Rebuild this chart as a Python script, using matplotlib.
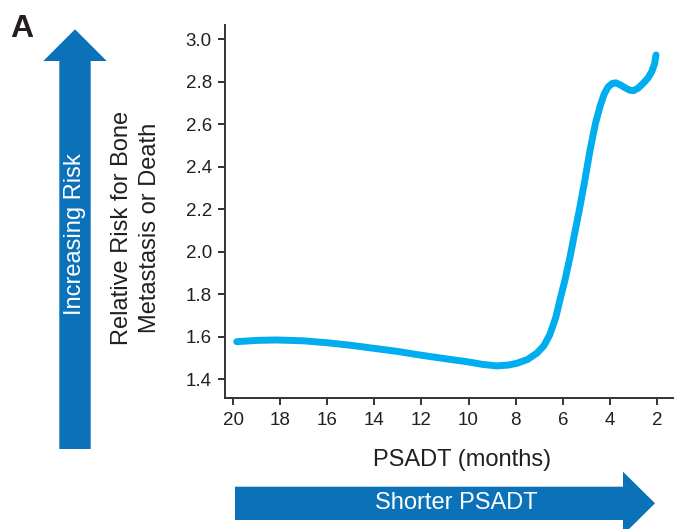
import matplotlib.pyplot as plt
from matplotlib.patches import Polygon

plt.rcParams['font.family'] = ['Liberation Sans', 'DejaVu Sans']

# PSADT (months) vs relative risk
psadt = [19.84, 19.0, 18.15, 17.0, 16.02, 15.0, 14.04, 13.0, 12.06, 11.0,
         10.08, 9.4, 8.81, 8.3, 7.96, 7.5, 7.11, 6.8, 6.55, 6.3,
         6.12, 5.9, 5.69, 5.48, 5.27, 5.05, 4.84, 4.62, 4.42, 4.25,
         4.08, 3.9, 3.75, 3.55, 3.36, 3.15, 3.0, 2.8, 2.58, 2.38,
         2.22, 2.1, 2.04]
risk = [1.577, 1.583, 1.585, 1.581, 1.572, 1.560, 1.546, 1.531, 1.514, 1.497,
        1.483, 1.470, 1.463, 1.467, 1.475, 1.493, 1.522, 1.558, 1.610, 1.690,
        1.773, 1.870, 1.977, 2.095, 2.212, 2.345, 2.479, 2.600, 2.683, 2.740,
        2.775, 2.792, 2.795, 2.785, 2.772, 2.760, 2.758, 2.770, 2.793, 2.818,
        2.848, 2.885, 2.926]

x_ticks = [20, 18, 16, 14, 12, 10, 8, 6, 4, 2]
y_ticks = [1.4, 1.6, 1.8, 2.0, 2.2, 2.4, 2.6, 2.8, 3.0]

W, H = 674, 529
fig = plt.figure(figsize=(W / 100, H / 100), dpi=100)

# overlay for the arrows and free text, in pixel units
ov = fig.add_axes([0, 0, 1, 1])
ov.set_xlim(0, W)
ov.set_ylim(H, 0)
ov.axis('off')

ax = fig.add_axes([225 / W, 1 - 398 / H, (673 - 225) / W, (398 - 25) / H])
ax.plot(psadt, risk, color='#00aeef', lw=5, solid_capstyle='round',
        solid_joinstyle='round')
ax.set_xlim(20.34, 1.32)
ax.set_ylim(1.312, 3.067)
ax.set_xticks(x_ticks)
ax.set_yticks(y_ticks)
ax.set_yticklabels([f'{v:.1f}' for v in y_ticks])
for s in ['top', 'right']:
    ax.spines[s].set_visible(False)
for s in ['left', 'bottom']:
    ax.spines[s].set_color('#333333')
    ax.spines[s].set_linewidth(1.4)
ax.tick_params(direction='out', length=5, width=1.4, color='#333333',
               labelsize=13.5, labelcolor='#231f20')
ax.tick_params(axis='y', pad=4.5)
ax.tick_params(axis='x', pad=5)

txt = '#231f20'
blue = '#0b72b9'

# vertical arrow
ov.add_patch(Polygon([(59.3, 449), (90.7, 449), (90.7, 61), (106.7, 61),
                      (75, 29.3), (43.3, 61), (59.3, 61)],
                     closed=True, fc=blue, ec='none'))
ov.text(75, 234, 'Increasing Risk', rotation=90, color='white', fontsize=17,
        ha='center', va='center')

# horizontal arrow
ov.add_patch(Polygon([(235, 486.7), (623, 486.7), (623, 471.7), (655, 503.3),
                      (623, 535), (623, 520), (235, 520)],
                     closed=True, fc=blue, ec='none'))
ov.text(456, 503, 'Shorter PSADT', color='white', fontsize=17,
        ha='center', va='center')

ov.text(136, 228, 'Relative Risk for Bone\nMetastasis or Death', rotation=90,
        color=txt, fontsize=17, ha='center', va='center', linespacing=1.35)
ov.text(462, 460, 'PSADT (months)', color=txt, fontsize=17,
        ha='center', va='center')
ov.text(10, 29, 'A', color=txt, fontsize=23, fontweight='bold',
        ha='left', va='center')

fig.savefig('out.png', dpi=100)
